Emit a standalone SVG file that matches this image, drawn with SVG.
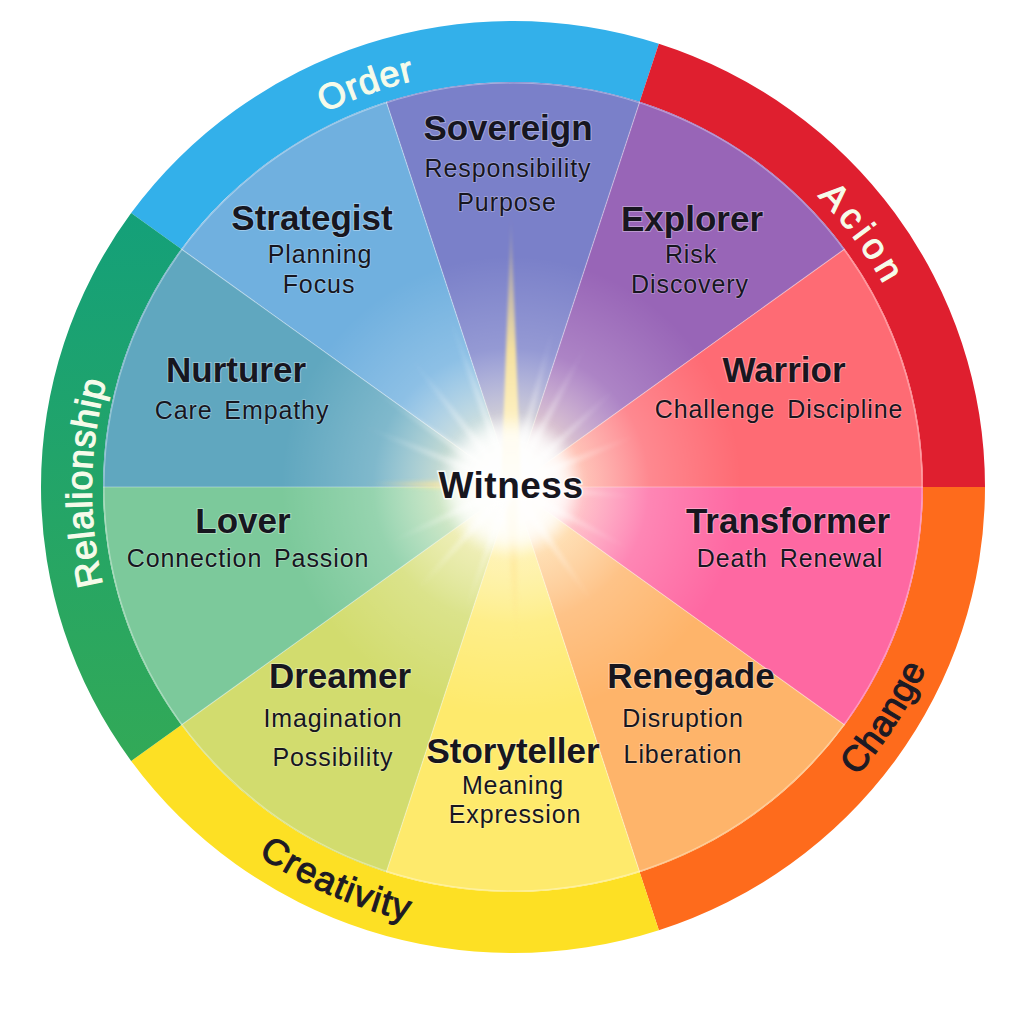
<svg xmlns="http://www.w3.org/2000/svg" width="1024" height="1024" viewBox="0 0 1024 1024">
<defs>
<style>
.t{font-family:"Liberation Sans",Arial,sans-serif;font-weight:bold;font-size:35px;fill:#17161f;text-anchor:middle;stroke:#ffffff;stroke-opacity:0.35;stroke-width:2px;paint-order:stroke}
.s{font-family:"Liberation Sans",Arial,sans-serif;font-size:25px;fill:#17161f;text-anchor:middle;letter-spacing:0.9px;word-spacing:4px;stroke:#ffffff;stroke-opacity:0.3;stroke-width:1.5px;paint-order:stroke}
.rl{font-family:"Liberation Sans",Arial,sans-serif;font-size:36px;text-anchor:middle;stroke-width:1.1px}
.rw{fill:#f6fbea;stroke:#f6fbea}
.rd{fill:#1d1a24;stroke:#1d1a24}
.sep{stroke:#ffffff;stroke-opacity:0.35;stroke-width:1.2;fill:none}
</style>
<linearGradient id="gRel" x1="0" y1="0" x2="0" y2="1">
<stop offset="0" stop-color="#14a079"/>
<stop offset="1" stop-color="#32a957"/>
</linearGradient>
<radialGradient id="glow" cx="511" cy="486" r="230" gradientUnits="userSpaceOnUse">
<stop offset="0" stop-color="#ffffff" stop-opacity="1"/>
<stop offset="0.16" stop-color="#fffef6" stop-opacity="0.97"/>
<stop offset="0.32" stop-color="#fff8df" stop-opacity="0.62"/>
<stop offset="0.6" stop-color="#ffffff" stop-opacity="0.2"/>
<stop offset="1" stop-color="#ffffff" stop-opacity="0"/>
</radialGradient>
<linearGradient id="rayW" x1="0" y1="1" x2="0" y2="0">
<stop offset="0" stop-color="#ffffff" stop-opacity="0.9"/>
<stop offset="1" stop-color="#ffffff" stop-opacity="0"/>
</linearGradient>
<linearGradient id="rayY" x1="0" y1="1" x2="0" y2="0">
<stop offset="0" stop-color="#fffbe6" stop-opacity="1"/>
<stop offset="0.5" stop-color="#ffe89a" stop-opacity="0.9"/>
<stop offset="1" stop-color="#ffe07a" stop-opacity="0"/>
</linearGradient>
<filter id="blur" x="-50%" y="-10%" width="200%" height="120%">
<feGaussianBlur stdDeviation="2.2"/>
</filter>
<filter id="blur2" x="-50%" y="-10%" width="200%" height="120%">
<feGaussianBlur stdDeviation="1.5"/>
</filter>
<filter id="blur3" x="-50%" y="-50%" width="200%" height="200%">
<feGaussianBlur stdDeviation="8"/>
</filter>
<path id="pOrder" d="M114.57,344.04 A424,418 0 0 1 725,125"/>
<path id="pAction" d="M542.58,70.02 A424,418 0 0 1 924.41,588.12"/>
<path id="pRel" d="M239.75,805.48 A420,414 0 0 1 251.04,165.36"/>
<path id="pChange" d="M575.91,928.66 A452,446 0 0 0 942.88,349.18"/>
<path id="pCreat" d="M78.51,609.94 A452,446 0 0 0 711.14,887.86"/>
</defs>

<rect width="1024" height="1024" fill="#ffffff"/>

<g id="ring">
<g id="ring-order">
<path d="M131.14,213.09 A472,466 0 0 1 658.86,43.81 L639.70,101.82 A410,405 0 0 0 181.30,248.95 Z" fill="#33b0ea"/>
<text class="rl rw"><textPath href="#pOrder" startOffset="50%" letter-spacing="1">Order</textPath></text>
</g>
<g id="ring-action">
<path d="M658.86,43.81 A472,466 0 0 1 985,487 L923,487 A410,405 0 0 0 639.70,101.82 Z" fill="#df1f2f"/>
<text class="rl rw"><textPath href="#pAction" startOffset="50%" letter-spacing="5">Acion</textPath></text>
</g>
<g id="ring-change">
<path d="M985,487 A472,466 0 0 1 658.86,930.19 L639.70,872.18 A410,405 0 0 0 923,487 Z" fill="#fe6b1c"/>
<text class="rl rd"><textPath href="#pChange" startOffset="50%" letter-spacing="0.5">Change</textPath></text>
</g>
<g id="ring-creativity">
<path d="M658.86,930.19 A472,466 0 0 1 131.14,760.91 L181.30,725.05 A410,405 0 0 0 639.70,872.18 Z" fill="#fde024"/>
<text class="rl rd"><textPath href="#pCreat" startOffset="50%" letter-spacing="1.5">Creativity</textPath></text>
</g>
<g id="ring-relationship">
<path d="M131.14,760.91 A472,466 0 0 1 131.14,213.09 L181.30,248.95 A410,405 0 0 0 181.30,725.05 Z" fill="url(#gRel)"/>
<text class="rl rw"><textPath href="#pRel" startOffset="50%" letter-spacing="0.8">Relalionship</textPath></text>
</g>
</g>

<g id="wedges">
<path id="w-sovereign" d="M513,487 L386.30,101.82 A410,405 0 0 1 639.70,101.82 Z" fill="#7a80c9"/>
<path id="w-explorer" d="M513,487 L639.70,101.82 A410,405 0 0 1 844.70,248.95 Z" fill="#9865b7"/>
<path id="w-warrior" d="M513,487 L844.70,248.95 A410,405 0 0 1 923,487 Z" fill="#fe6b74"/>
<path id="w-transformer" d="M513,487 L923,487 A410,405 0 0 1 844.70,725.05 Z" fill="#fe68a2"/>
<path id="w-renegade" d="M513,487 L844.70,725.05 A410,405 0 0 1 639.70,872.18 Z" fill="#feb46a"/>
<path id="w-storyteller" d="M513,487 L639.70,872.18 A410,405 0 0 1 386.30,872.18 Z" fill="#feea6c"/>
<path id="w-dreamer" d="M513,487 L386.30,872.18 A410,405 0 0 1 181.30,725.05 Z" fill="#d2dc6e"/>
<path id="w-lover" d="M513,487 L181.30,725.05 A410,405 0 0 1 103,487 Z" fill="#7cc99b"/>
<path id="w-nurturer" d="M513,487 L103,487 A410,405 0 0 1 181.30,248.95 Z" fill="#60a7bf"/>
<path id="w-strategist" d="M513,487 L181.30,248.95 A410,405 0 0 1 386.30,101.82 Z" fill="#70b0df"/>
<path class="sep" d="M513,487 L386.30,101.82 M513,487 L639.70,101.82 M513,487 L844.70,248.95 M513,487 L923,487 M513,487 L844.70,725.05 M513,487 L639.70,872.18 M513,487 L386.30,872.18 M513,487 L181.30,725.05 M513,487 L103,487 M513,487 L181.30,248.95"/>
<ellipse class="sep" cx="513" cy="487" rx="409" ry="404"/>
</g>

<g id="light">
<circle cx="511" cy="486" r="230" fill="url(#glow)"/>
<g transform="translate(511,486)">
<g filter="url(#blur)" opacity="0.75">
<polygon points="-5,0 5,0 0,-1" transform="rotate(28) scale(1,165)" fill="url(#rayW)"/>
<polygon points="-5,0 5,0 0,-1" transform="rotate(47) scale(1,150)" fill="url(#rayW)"/>
<polygon points="-5,0 5,0 0,-1" transform="rotate(68) scale(1,140)" fill="url(#rayW)"/>
<polygon points="-5,0 5,0 0,-1" transform="rotate(95) scale(1,130)" fill="url(#rayW)"/>
<polygon points="-5,0 5,0 0,-1" transform="rotate(118) scale(1,140)" fill="url(#rayW)"/>
<polygon points="-5,0 5,0 0,-1" transform="rotate(145) scale(1,150)" fill="url(#rayW)"/>
<polygon points="-7,0 7,0 0,-1" transform="rotate(178) scale(1,160)" fill="url(#rayY)"/>
<polygon points="-5,0 5,0 0,-1" transform="rotate(200) scale(1,140)" fill="url(#rayW)"/>
<polygon points="-5,0 5,0 0,-1" transform="rotate(222) scale(1,150)" fill="url(#rayW)"/>
<polygon points="-5,0 5,0 0,-1" transform="rotate(245) scale(1,140)" fill="url(#rayW)"/>
<polygon points="-7,0 7,0 0,-1" transform="rotate(271) scale(1,150)" fill="url(#rayY)"/>
<polygon points="-5,0 5,0 0,-1" transform="rotate(292) scale(1,165)" fill="url(#rayW)"/>
<polygon points="-5,0 5,0 0,-1" transform="rotate(305) scale(1,180)" fill="url(#rayW)"/>
<polygon points="-5,0 5,0 0,-1" transform="rotate(322) scale(1,170)" fill="url(#rayW)"/>
<polygon points="-5,0 5,0 0,-1" transform="rotate(340) scale(1,190)" fill="url(#rayW)"/>
<polygon points="-5,0 5,0 0,-1" transform="rotate(15) scale(1,170)" fill="url(#rayW)"/>
</g>
<g filter="url(#blur2)">
<polygon points="-10,0 10,0 0,-1" transform="scale(1,270)" fill="url(#rayY)"/>
</g>
</g>
<circle cx="511" cy="486" r="62" fill="#ffffff" opacity="0.75" filter="url(#blur3)"/>
</g>

<g id="node-sovereign">
<text class="t" x="508" y="140">Sovereign</text>
<text class="s" x="508" y="177">Responsibility</text>
<text class="s" x="507" y="211">Purpose</text>
</g>
<g id="node-strategist">
<text class="t" x="312" y="230">Strategist</text>
<text class="s" x="320" y="263">Planning</text>
<text class="s" x="319" y="293">Focus</text>
</g>
<g id="node-explorer">
<text class="t" x="692" y="231">Explorer</text>
<text class="s" x="691" y="263">Risk</text>
<text class="s" x="690" y="293">Discovery</text>
</g>
<g id="node-nurturer">
<text class="t" x="236" y="382">Nurturer</text>
<text class="s" x="242" y="419">Care Empathy</text>
</g>
<g id="node-warrior">
<text class="t" x="784" y="382">Warrior</text>
<text class="s" x="779" y="418">Challenge Discipline</text>
</g>
<g id="node-lover">
<text class="t" x="243" y="533">Lover</text>
<text class="s" x="248" y="567">Connection Passion</text>
</g>
<g id="node-transformer">
<text class="t" x="788" y="533">Transformer</text>
<text class="s" x="790" y="567">Death Renewal</text>
</g>
<g id="node-dreamer">
<text class="t" x="340" y="688">Dreamer</text>
<text class="s" x="333" y="727">Imagination</text>
<text class="s" x="333" y="766">Possibility</text>
</g>
<g id="node-renegade">
<text class="t" x="691" y="688">Renegade</text>
<text class="s" x="683" y="727">Disruption</text>
<text class="s" x="683" y="763">Liberation</text>
</g>
<g id="node-storyteller">
<text class="t" x="513" y="763">Storyteller</text>
<text class="s" x="513" y="794">Meaning</text>
<text class="s" x="515" y="823">Expression</text>
</g>
<g id="node-witness">
<text class="t" x="511" y="498" style="font-size:37px;letter-spacing:0.5px;stroke-opacity:0.8;stroke-width:3px">Witness</text>
</g>
</svg>
